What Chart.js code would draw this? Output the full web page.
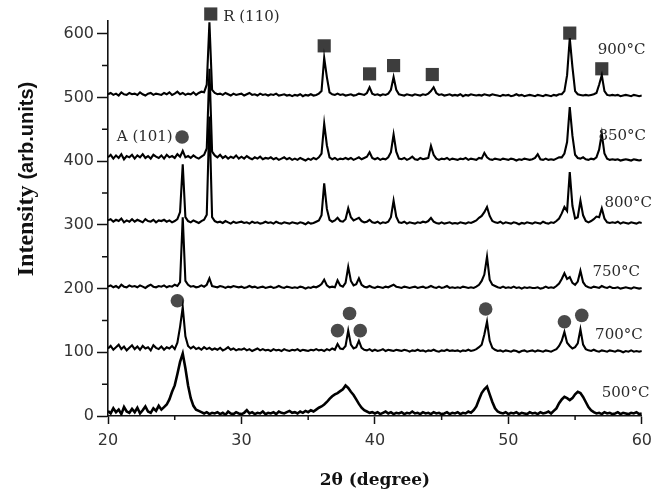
<!DOCTYPE html>
<html><head><meta charset="utf-8">
<script src="https://cdn.jsdelivr.net/npm/chart.js@4.4.1/dist/chart.umd.min.js"></script>
<style>html,body{margin:0;padding:0;background:#fff;}canvas{display:block;}</style>
</head><body>
<canvas id="c" width="659" height="496"></canvas>
<script>
// 2θ sampling grid (degrees), 20.0 .. 60.0 every 0.2
const twoTheta = Array.from({length: 201}, (_, i) => Math.round((20 + i * 0.2) * 10) / 10);

// Intensities, one value per grid point
const s900 = [
505,507,504,506,503,508,505,504,507,505,
506,504,508,505,503,506,507,504,506,505,
504,507,505,508,504,506,509,505,507,504,
506,505,508,504,507,509,508,520,618,512,
507,505,506,504,507,505,503,506,504,505,
506,503,505,507,504,505,503,506,504,505,
503,505,504,506,503,504,505,503,504,502,
504,503,505,502,504,503,505,503,504,506,
510,562,532,508,505,504,506,504,505,503,
504,505,503,504,506,505,504,507,516,506,
504,505,503,505,504,506,512,532,512,505,
504,503,505,504,503,505,504,503,505,504,
506,510,516,507,504,505,503,504,505,503,
504,503,505,502,504,503,505,504,503,504,
503,505,504,503,505,504,503,502,504,503,
504,502,503,505,503,504,502,503,504,503,
502,504,503,502,504,503,502,504,503,505,
505,510,535,593,548,510,505,504,503,504,
503,504,505,507,520,535,510,504,503,504,
503,504,502,503,504,503,502,504,503,502,
503];
const s850 = [
406,410,404,409,405,411,403,408,406,410,
404,409,406,411,405,408,404,410,407,405,
409,404,410,406,408,405,411,407,416,406,
408,405,409,406,404,407,410,420,545,415,
409,406,410,405,408,404,407,405,409,404,
407,404,408,405,403,406,404,407,403,405,
404,406,403,405,402,404,406,403,405,402,
404,402,405,403,401,404,402,405,403,406,
412,459,425,406,403,405,402,404,403,405,
403,405,402,404,406,403,405,407,414,405,
403,405,402,404,403,406,414,442,415,404,
403,405,402,404,407,403,402,405,403,404,
405,424,410,404,402,404,403,405,402,404,
403,402,404,403,405,402,404,403,402,405,
404,413,406,403,402,404,403,402,404,403,
402,404,403,401,403,402,404,403,402,403,
405,411,403,402,404,402,403,402,404,406,
406,412,430,485,440,410,405,404,406,403,
402,404,403,406,418,443,412,404,402,403,
402,403,401,402,403,402,401,403,402,401,
402];
const s800 = [
307,309,305,308,306,310,304,307,305,309,
305,308,306,304,309,306,305,308,304,307,
306,308,305,307,304,306,309,320,395,312,
306,304,307,305,303,306,308,316,470,312,
306,304,305,303,306,304,302,305,303,304,
305,303,304,302,305,303,304,302,303,305,
303,304,302,305,303,302,304,303,302,304,
303,302,304,303,301,304,302,303,305,307,
315,365,325,308,305,307,311,306,305,309,
326,312,307,309,311,306,304,305,308,304,
303,305,302,304,303,305,312,338,313,304,
303,305,302,304,303,302,304,303,305,304,
306,311,305,303,302,304,302,303,304,302,
303,302,304,303,302,304,303,305,307,311,
314,320,328,314,306,304,303,305,302,304,
303,302,304,303,301,303,302,304,303,302,
304,303,302,305,303,302,304,303,306,310,
318,328,322,383,330,310,312,338,315,306,
304,306,309,313,312,326,310,304,303,304,
303,305,302,304,303,302,304,303,302,304,
303];
const s750 = [
203,205,202,204,201,206,203,202,205,203,
204,202,205,203,201,204,206,203,202,204,
203,205,202,204,203,206,204,210,312,212,
206,203,204,202,203,205,203,206,216,204,
203,202,204,203,201,203,202,204,203,202,
203,201,202,204,202,203,201,202,203,201,
202,203,201,202,204,202,201,203,202,201,
202,201,203,202,200,202,201,203,202,204,
207,214,205,202,203,202,213,205,203,209,
234,212,205,207,216,206,203,202,204,202,
201,203,202,201,203,202,204,206,203,202,
201,203,202,201,202,203,201,202,203,201,
202,204,202,201,203,201,202,204,201,202,
201,202,201,203,202,201,202,201,203,206,
212,222,250,214,206,204,202,201,203,201,
202,201,203,201,202,200,202,201,202,201,
201,202,200,201,203,201,202,201,204,208,
215,224,215,218,209,206,211,228,210,204,
202,201,203,202,201,204,202,201,203,201,
201,202,200,201,202,201,200,202,201,200,
201];
const s700 = [
106,110,104,108,112,105,109,103,107,111,
105,109,104,110,106,108,103,111,107,105,
109,104,108,106,110,105,115,140,171,125,
110,106,109,105,107,104,108,105,107,104,
106,104,107,103,105,108,104,106,103,105,
104,106,103,105,102,104,106,103,105,103,
104,102,105,103,104,102,105,103,102,104,
103,105,102,104,103,102,104,103,105,103,
104,102,105,103,106,104,113,106,105,110,
134,112,106,108,118,107,104,103,105,102,
104,102,103,105,102,104,103,102,104,103,
102,104,103,101,103,102,104,102,103,101,
103,102,104,102,101,103,102,104,102,103,
102,103,101,103,102,104,102,103,105,108,
112,128,148,118,107,104,102,103,101,103,
102,101,103,102,100,102,103,101,102,103,
101,103,102,101,103,102,101,103,105,110,
118,132,115,110,106,108,114,136,112,105,
103,102,104,102,101,103,102,101,103,102,
101,103,102,100,102,101,103,101,102,101,
102];
const s500 = [
8,4,12,6,10,3,14,7,5,11,
6,13,4,9,15,7,5,12,8,16,
10,14,18,26,38,48,66,85,98,75,
48,28,16,10,8,6,4,6,3,5,
4,6,3,5,2,7,4,3,6,4,
3,5,9,4,6,3,5,4,7,3,
5,4,6,3,7,5,4,6,8,5,
6,4,7,5,8,6,9,7,10,13,
15,18,22,27,31,34,36,39,42,48,
44,38,33,26,19,13,9,7,5,6,
4,6,3,5,7,4,6,3,5,4,
6,3,5,4,7,4,5,3,6,4,
5,3,6,4,5,3,4,6,3,5,
4,6,3,5,4,7,5,9,15,26,
36,42,46,34,22,12,7,5,4,6,
3,5,4,6,3,5,4,3,6,4,
5,3,6,4,5,7,4,8,12,20,
26,30,28,25,28,34,38,36,30,22,
14,9,6,4,5,3,6,4,5,3,
4,6,3,5,4,3,5,4,6,3,
4];

// Phase markers (2θ, intensity) : rutile squares, anatase circles
const rutileMarks = [[27.7,631],[36.2,581],[39.6,537],[41.4,550],[44.3,536],[54.6,601],[57.0,545]];
const anataseMarks = [[25.55,438],[25.2,181],[37.2,134],[38.1,161],[38.9,134],[48.3,168],[54.2,148],[55.5,158]];

const seriesNames = ['500°C','700°C','750°C','800°C','850°C','900°C'];
const seriesData = [s500, s700, s750, s800, s850, s900];

const yMinor = [50,150,250,350,450,550];
const xMinor = [25,35,45,55];

// text annotations anchored in data coordinates
const notes = [
  {t:'900°C', x:56.7, y:574, a:'left'},
  {t:'850°C', x:56.75, y:440, a:'left'},
  {t:'800°C', x:57.2, y:334, a:'left'},
  {t:'750°C', x:56.3, y:226, a:'left'},
  {t:'700°C', x:56.5, y:127, a:'left'},
  {t:'500°C', x:57.0, y:36, a:'left'},
  {t:'R (110)', x:28.63, y:626, a:'left'},
  {t:'A (101)', x:24.85, y:438, a:'right'}
];

const extras = {
  id: 'extras',
  afterDraw(chart) {
    const {ctx, chartArea: ca, scales: {x, y}} = chart;
    ctx.save();
    ctx.strokeStyle = '#111';
    ctx.lineWidth = 1.5;
    ctx.beginPath();
    yMinor.forEach(v => { const p = y.getPixelForValue(v); ctx.moveTo(ca.left - 6, p); ctx.lineTo(ca.left, p); });
    xMinor.forEach(v => { const p = x.getPixelForValue(v); ctx.moveTo(p, ca.bottom); ctx.lineTo(p, ca.bottom + 4); });
    ctx.stroke();

    ctx.fillStyle = '#2a2a2a';
    ctx.font = '15px "DejaVu Serif"';
    ctx.textBaseline = 'middle';
    notes.forEach(n => {
      ctx.textAlign = n.a;
      ctx.fillText(n.t, x.getPixelForValue(n.x), y.getPixelForValue(n.y));
    });

    // y-axis title
    ctx.translate(27, 179);
    ctx.rotate(-Math.PI / 2);
    const p1 = 'Intensity ', p2 = '(arb.units)';
    ctx.font = 'bold 24px "Liberation Serif"';
    const w1 = ctx.measureText(p1).width;
    ctx.font = 'bold 20px "Liberation Sans"';
    const w2 = ctx.measureText(p2).width;
    const start = -(w1 + w2) / 2;
    ctx.fillStyle = '#111';
    ctx.textAlign = 'left';
    ctx.font = 'bold 24px "Liberation Serif"';
    ctx.fillText(p1, start, 0);
    ctx.font = 'bold 20px "Liberation Sans"';
    ctx.fillText(p2, start + w1, 0);
    ctx.restore();
  }
};

const lineSets = seriesData.map((arr, k) => ({
  type: 'line',
  label: seriesNames[k],
  data: arr.map((v, i) => ({x: twoTheta[i], y: v})),
  borderColor: '#000',
  borderWidth: k === 0 ? 2.6 : 2.1,
  pointRadius: 0,
  tension: 0,
  fill: false
}));

new Chart(document.getElementById('c'), {
  type: 'line',
  data: {
    datasets: [
      ...lineSets,
      {type: 'scatter', label: 'Rutile', data: rutileMarks.map(([a, b]) => ({x: a, y: b})),
       pointStyle: 'rect', pointRadius: 9.3, backgroundColor: '#3d3d3d', borderColor: '#3d3d3d', borderWidth: 0, clip: false},
      {type: 'scatter', label: 'Anatase', data: anataseMarks.map(([a, b]) => ({x: a, y: b})),
       pointStyle: 'circle', pointRadius: 6.8, backgroundColor: '#4a4a4a', borderColor: '#4a4a4a', borderWidth: 0, clip: false}
    ]
  },
  options: {
    responsive: false,
    animation: false,
    devicePixelRatio: 1,
    layout: {padding: {top: 21, right: 15, left: 0, bottom: 0}},
    plugins: {legend: {display: false}, tooltip: {enabled: false}},
    scales: {
      x: {
        type: 'linear', min: 20, max: 60,
        afterFit(s) { s.height = 80; },
        ticks: {stepSize: 10, includeBounds: false, font: {family: 'DejaVu Sans', size: 16}, color: '#333', padding: 7},
        grid: {display: true, drawOnChartArea: false, drawTicks: true, tickLength: 8, tickColor: '#111', tickWidth: 1.5},
        border: {display: true, color: '#111', width: 1.6},
        title: {display: true, text: '2θ (degree)', font: {family: 'DejaVu Serif', size: 17, weight: 'bold'}, color: '#111', padding: {top: 0, bottom: 5}}
      },
      y: {
        type: 'linear', min: 0, max: 620,
        afterFit(s) { s.width = 108; },
        ticks: {stepSize: 100, includeBounds: false, font: {family: 'DejaVu Sans', size: 16}, color: '#333', padding: 3},
        grid: {display: true, drawOnChartArea: false, drawTicks: true, tickLength: 11, tickColor: '#111', tickWidth: 1.5},
        border: {display: true, color: '#111', width: 1.6}
      }
    }
  },
  plugins: [extras]
});
</script>
</body></html>
